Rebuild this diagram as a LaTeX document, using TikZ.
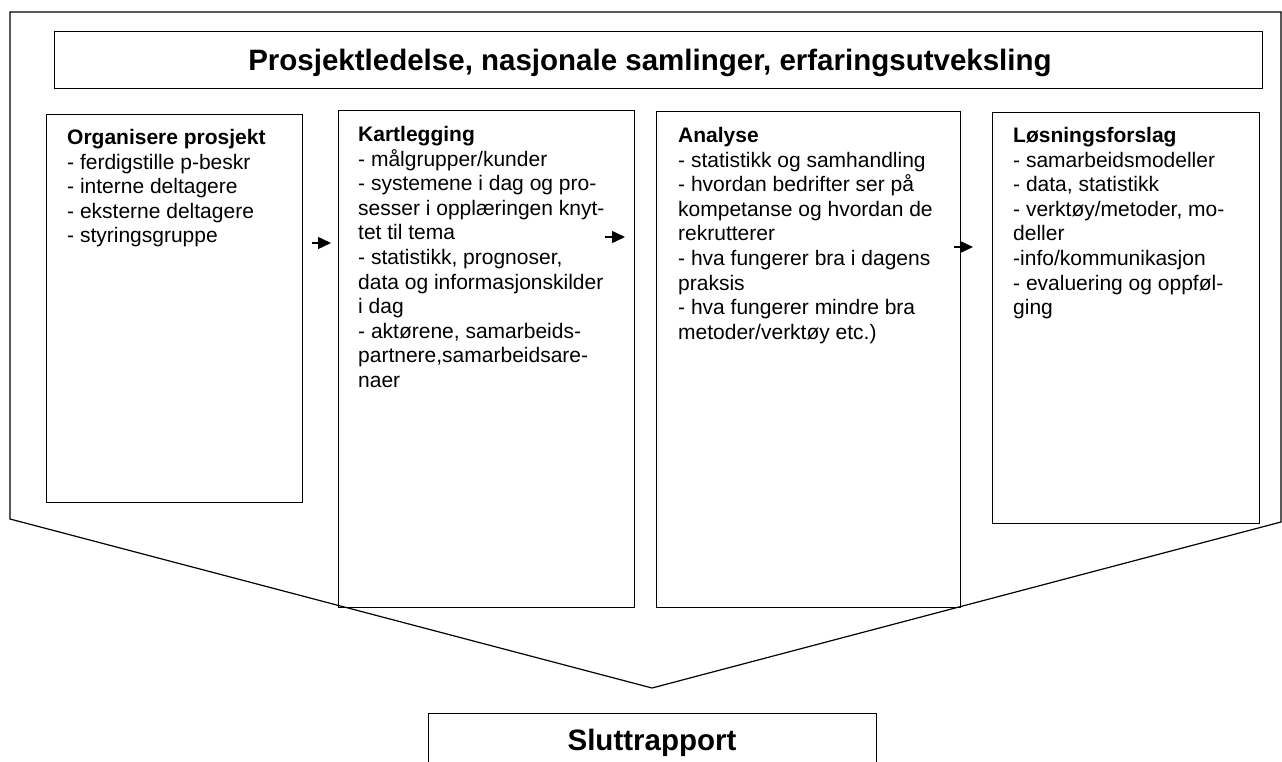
\documentclass[tikz,border=0pt]{standalone}
\usepackage{fontspec}
\setmainfont{Liberation Sans}
\usetikzlibrary{positioning,arrows.meta}
\tikzset{
  fasebox/.style={draw, line width=1.2pt, inner sep=0pt, anchor=north west},
  fasetxt/.style={anchor=north west, align=left, inner sep=0pt, font=\fontsize{21}{24.6}\selectfont},
  overskrift/.style={anchor=base, inner sep=0pt, font=\fontsize{29.5}{34}\selectfont\bfseries},
  pil/.style={line width=1.4pt, -{Triangle[length=13pt,width=12pt]}},
}

\begin{document}
\begin{tikzpicture}[x=1pt,y=-1pt]
\useasboundingbox (0,0) rectangle (1282,762);
\draw[line width=1.2pt] (10,12) -- (1281,12) -- (1281,522) -- (652,688) -- (10,519) -- cycle;

\node[fasebox, minimum width=1208, minimum height=57] (ledelse) at (54,31) {};
\node[overskrift] (ledelsetxt) at (650,71) {Prosjektledelse, nasjonale samlinger, erfaringsutveksling};

\foreach \nm/\x/\y/\w/\h in {org/46/114/256/388, kart/338/110/296/497, anal/656/111/304/496, losn/992/112/267/411}
  \node[fasebox, minimum width=\w, minimum height=\h] (\nm) at (\x,\y) {};

\node[fasetxt] (orgtxt) at ([shift={(21,15)}]org.north west) {\textbf{Organisere prosjekt}\\
- ferdigstille p-beskr\\
- interne deltagere\\
- eksterne deltagere\\
- styringsgruppe};
\node[fasetxt] (karttxt) at ([shift={(20,16)}]kart.north west) {\textbf{Kartlegging}\\
- målgrupper/kunder\\
- systemene i dag og pro-\\
sesser i opplæringen knyt-\\
tet til tema\\
- statistikk, prognoser,\\
data og informasjonskilder\\
i dag\\
- aktørene, samarbeids-\\
partnere,samarbeidsare-\\
naer};
\node[fasetxt] (analtxt) at ([shift={(22,16)}]anal.north west) {\textbf{Analyse}\\
- statistikk og samhandling\\
- hvordan bedrifter ser på\\
kompetanse og hvordan de\\
rekrutterer\\
- hva fungerer bra i dagens\\
praksis\\
- hva fungerer mindre bra\\
metoder/verktøy etc.)};
\node[fasetxt] (losntxt) at ([shift={(21,15)}]losn.north west) {\textbf{Løsningsforslag}\\
- samarbeidsmodeller\\
- data, statistikk\\
- verktøy/metoder, mo-\\
deller\\
-info/kommunikasjon\\
- evaluering og oppføl-\\
ging};

\coordinate (p1a) at (312,243); \coordinate (p1b) at (331,243);
\coordinate (p2a) at (605,237); \coordinate (p2b) at (625,237);
\coordinate (p3a) at (954,247); \coordinate (p3b) at (973,247);
\foreach \s/\e in {p1a/p1b, p2a/p2b, p3a/p3b}
  \draw[pil] (\s) -- (\e);

\node[fasebox, minimum width=448, minimum height=70] (rapport) at (428,713) {};
\node[overskrift] (rapporttxt) at (652,750) {Sluttrapport};
\end{tikzpicture}
\end{document}
